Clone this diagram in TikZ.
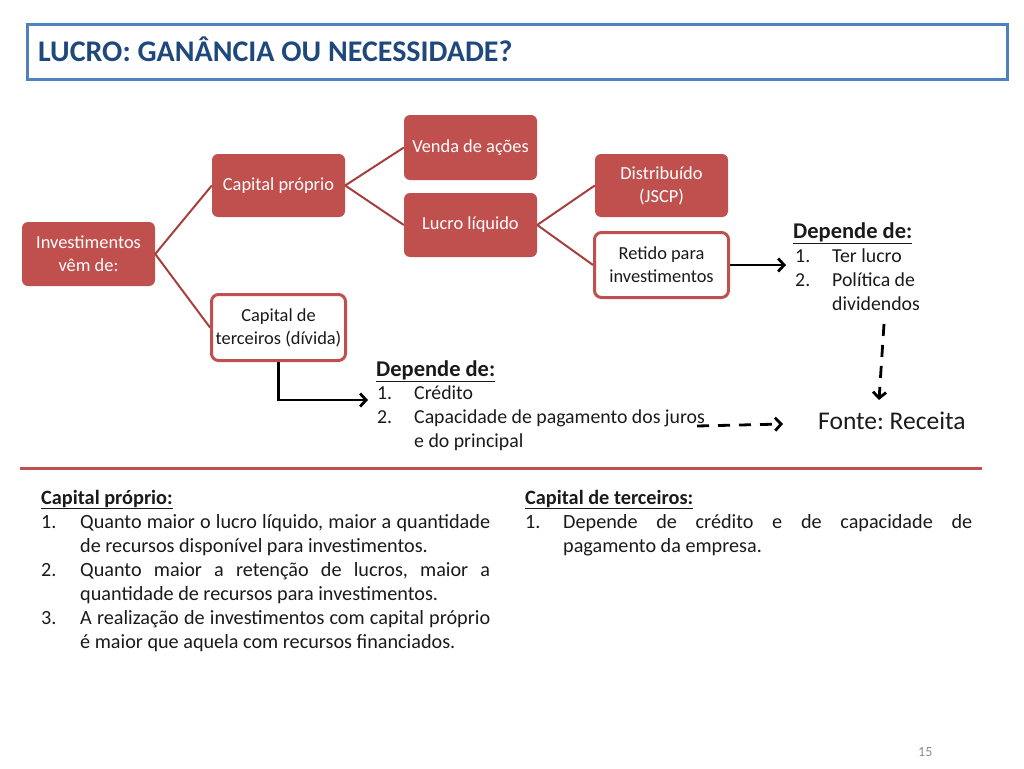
\documentclass[tikz,border=0pt]{standalone}
\usepackage{fontspec}
\setmainfont{Carlito}
\usetikzlibrary{arrows.meta}
\definecolor{redA}{HTML}{C0504D}
\definecolor{redB}{HTML}{A5403D}
\definecolor{blueA}{HTML}{4F81BD}
\definecolor{titleC}{HTML}{1F497D}
\definecolor{txt}{HTML}{1A1A1A}
\definecolor{pg}{HTML}{8C8C8C}
\frenchspacing
\begin{document}
\begin{tikzpicture}[x=1pt,y=-1pt,
 fbox/.style={rectangle,rounded corners=6pt,fill=redA,text=white,align=center,font=\fontsize{18.4}{23}\selectfont,minimum width=133pt,minimum height=64pt,inner sep=2pt},
 wbox/.style={rectangle,rounded corners=7pt,draw=redA,line width=3pt,fill=white,text=txt,align=center,font=\fontsize{18.4}{23}\selectfont,minimum width=134pt,minimum height=65pt,inner sep=2pt},
 conn/.style={draw=redB,line width=2pt},
 arr/.style={line width=2.8pt,-{Straight Barb[length=6pt,width=13pt]}},
 darr/.style={arr,dash pattern=on 12pt off 9pt},
 lbl/.style={anchor=base west,inner sep=0pt,text=txt},
 head/.style={lbl,font=\fontsize{22.5}{26}\selectfont\bfseries},
 itm/.style={lbl,font=\fontsize{19.8}{24}\selectfont},
 body/.style={lbl,font=\fontsize{20.2}{24}\selectfont},
]
\useasboundingbox (0,0) rectangle (1024,768);
% title
\node[draw=blueA,line width=2.5pt,minimum width=980pt,minimum height=55pt,inner sep=0pt] (tbox) at (517.5,52) {};
\node[lbl,text=titleC,font=\fontsize{30}{34}\selectfont\bfseries] (ttl) at (38,61) {LUCRO: GANÂNCIA OU NECESSIDADE?};
% boxes
\node[fbox] (inv) at (88.5,254) {Investimentos\\vêm de:};
\node[fbox,minimum height=63pt] (cp) at (278.5,185.5) {Capital próprio};
\node[fbox,minimum height=65pt] (venda) at (470.5,147.5) {Venda de ações};
\node[fbox] (lucro) at (470.5,225) {Lucro líquido};
\node[fbox,minimum height=63pt] (dist) at (661.5,185.5) {Distribuído\\(JSCP)};
\node[wbox] (ret) at (661.5,265) {Retido para\\investimentos};
\node[wbox,minimum height=66pt] (ct) at (278.5,327.5) {Capital de\\terceiros (dívida)};
% connectors
\draw[conn] (inv.east) -- (cp.west);
\draw[conn] (inv.east) -- (ct.west);
\draw[conn] (cp.east) -- (venda.west);
\draw[conn] (cp.east) -- (lucro.west);
\draw[conn] (lucro.east) -- (dist.west);
\draw[conn] (lucro.east) -- (ret.west);
% right "Depende de"
\node[head] (depR) at (793,238) {\underline{Depende de:}};
\node[itm] (r1n) at (795,262) {1.};
\node[itm] (r1) at (832,262) {Ter lucro};
\node[itm] (r2n) at (795,286) {2.};
\node[itm] (r2) at (832,286) {Política de};
\node[itm] (r3) at (832,310) {dividendos};
\coordinate (rArr) at (786,265);
\draw[arr] (ret.east) -- (rArr);
% left "Depende de"
\node[head] (depL) at (376,376) {\underline{Depende de:}};
\node[itm] (l1n) at (377,399) {1.};
\node[itm] (l1) at (414,399) {Crédito};
\node[itm] (l2n) at (377,423) {2.};
\node[itm] (l2) at (414,423) {Capacidade de pagamento dos juros};
\node[itm] (l3) at (414,447) {e do principal};
\coordinate (lArr) at (368,400);
\draw[arr] (ct.south) |- (lArr);
% fonte
\node[lbl,font=\fontsize{25.5}{29}\selectfont] (fonte) at (818,429) {Fonte: Receita};
\coordinate (v1) at (884,324);
\coordinate (v2) at (879,400);
\draw[darr] (v1) -- (v2);
\coordinate (h1) at (697,426);
\coordinate (h2) at (783,424);
\draw[darr] (h1) -- (h2);
% separator
\draw[redA,line width=3pt] (20,468) -- (982,468);
% bottom left
\node[head,font=\fontsize{20.3}{24}\selectfont\bfseries] (cpH) at (41,504) {\underline{Capital próprio:}};
\node[body] (b1n) at (41,528) {1.};
\node[body] (b1) at (80,528) {\parbox[t]{410pt}{\makebox[410pt][s]{Quanto maior o lucro líquido, maior a quantidade}\\de recursos disponível para investimentos.}};
\node[body] (b2n) at (41,576) {2.};
\node[body] (b2) at (80,576) {\parbox[t]{410pt}{\makebox[410pt][s]{Quanto maior a retenção de lucros, maior a}\\quantidade de recursos para investimentos.}};
\node[body] (b3n) at (41,624) {3.};
\node[body] (b3) at (80,624) {\parbox[t]{410pt}{\makebox[410pt][s]{A realização de investimentos com capital próprio}\\é maior que aquela com recursos financiados.}};
% bottom right
\node[head,font=\fontsize{20.3}{24}\selectfont\bfseries] (ctH) at (525,504) {\underline{Capital de terceiros:}};
\node[body] (c1n) at (525,528) {1.};
\node[body] (c1) at (563,528) {\parbox[t]{409pt}{\makebox[409pt][s]{Depende de crédito e de capacidade de}\\pagamento da empresa.}};
% page number
\node[lbl,text=pg,font=\fontsize{14}{16}\selectfont] (pnum) at (918,756) {15};
\end{tikzpicture}
\end{document}
